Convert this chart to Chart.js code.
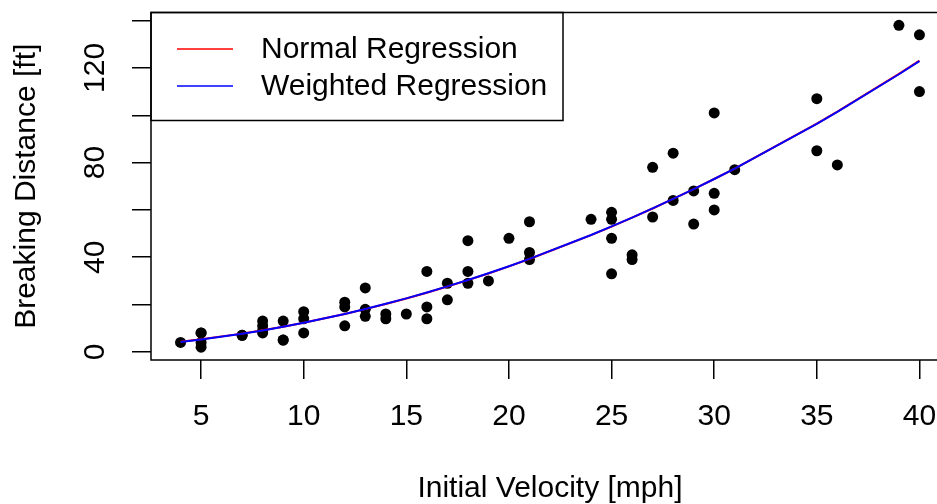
<!DOCTYPE html>
<html><head><meta charset="utf-8">
<script src="https://cdn.jsdelivr.net/npm/chart.js@4/dist/chart.umd.min.js"></script>
<style>html,body{margin:0;padding:0;background:#fff;overflow:hidden;width:937px;height:504px}canvas{display:block}</style>
</head><body>
<canvas id="c" width="960" height="504"></canvas>
<script>
const speed = [4,5,5,5,5,7,7,8,8,8,8,9,9,9,10,10,10,12,12,12,13,13,13,14,14,15,16,16,16,17,17,18,18,18,19,20,21,21,21,24,25,25,25,25,26,26,27,27,28,28,29,29,30,30,30,31,35,35,36,39,40,40];
const distance = [4,2,4,8,8,7,7,8,9,11,13,5,5,13,8,14,17,11,19,21,15,18,27,14,16,16,14,19,34,22,29,29,34,47,30,48,39,42,55,56,33,48,56,59,39,41,57,78,64,84,54,68,60,67,101,77,85,107,79,138,110,134];
const fitSpeed = [4,5,7,8,9,10,12,13,14,15,16,17,18,19,20,21,24,25,26,27,28,29,30,31,35,36,39,40];
const normalFit = [4.29,5.30,7.71,9.10,10.64,12.30,16.01,18.07,20.25,22.57,25.02,27.60,30.31,33.15,36.12,39.23,49.33,52.95,56.71,60.60,64.63,68.78,73.06,77.48,96.45,101.52,117.52,123.11];
const weightedFit = [4.15,5.19,7.64,9.06,10.61,12.28,16.03,18.10,20.30,22.62,25.08,27.67,30.38,33.23,36.20,39.31,49.40,53.02,56.77,60.65,64.66,68.80,73.07,77.47,96.37,101.42,117.34,122.91];
const xTicks = [5,10,15,20,25,30,35,40];
const yTicks = [0,20,40,60,80,100,120,140];
const yTickLabels = ['0','','40','','80','','120',''];
const legendLabels = ['Normal Regression','Weighted Regression'];
const xTitle = 'Initial Velocity [mph]';
const yTitle = 'Breaking Distance [ft]';

const FONT = '"Liberation Sans", Arial, Helvetica, sans-serif';
const xr = [Math.min(...speed), Math.max(...speed)];
const yr = [Math.min(...distance), Math.max(...distance)];
const ext = r => [r[0] - 0.04*(r[1]-r[0]), r[1] + 0.04*(r[1]-r[0])];
const xLim = ext(xr), yLim = ext(yr);

const rBox = {
  id: 'rBox',
  afterDraw(chart) {
    const {ctx, chartArea: a} = chart;
    ctx.save();
    ctx.strokeStyle = '#000';
    ctx.lineWidth = 1.5;
    ctx.strokeRect(a.left, a.top, a.right - a.left, a.bottom - a.top);
    const lx = a.left, ly = a.top, lw = 412, lh = 108;
    ctx.strokeRect(lx, ly, lw, lh);
    const ds = [chart.data.datasets[1], chart.data.datasets[2]];
    const rows = [ly + 36.5, ly + 73.5];
    ctx.font = '30px ' + FONT;
    ctx.textBaseline = 'middle';
    ctx.textAlign = 'left';
    ds.forEach((d, i) => {
      ctx.strokeStyle = d.borderColor;
      ctx.lineWidth = 1.6;
      ctx.beginPath();
      ctx.moveTo(lx + 26, rows[i]);
      ctx.lineTo(lx + 82, rows[i]);
      ctx.stroke();
      ctx.fillStyle = '#000';
      ctx.fillText(d.label, lx + 110, rows[i] + 1);
    });
    ctx.restore();
  }
};

const zeroPad = s => { s.paddingTop = 0; s.paddingBottom = 0; s.paddingLeft = 0; s.paddingRight = 0; };

new Chart(document.getElementById('c'), {
  type: 'scatter',
  data: {
    datasets: [
      { label: 'data', data: speed.map((s, i) => ({x: s, y: distance[i]})),
        backgroundColor: '#000', borderColor: '#000', pointRadius: 5.5, pointBorderWidth: 0, order: 3 },
      { label: legendLabels[0], data: fitSpeed.map((s, i) => ({x: s, y: normalFit[i]})),
        showLine: true, borderColor: '#FF0000', borderWidth: 2, pointRadius: 0, tension: 0, fill: false, order: 2 },
      { label: legendLabels[1], data: fitSpeed.map((s, i) => ({x: s, y: weightedFit[i]})),
        showLine: true, borderColor: '#0000FF', borderWidth: 2, pointRadius: 0, tension: 0, fill: false, order: 1 }
    ]
  },
  options: {
    responsive: false,
    animation: false,
    events: [],
    layout: { padding: { left: 0, right: 11, top: 12.5, bottom: 0 } },
    plugins: { legend: { display: false }, tooltip: { enabled: false } },
    scales: {
      x: {
        type: 'linear', min: xLim[0], max: xLim[1],
        afterBuildTicks: s => { s.ticks = xTicks.map(v => ({value: v})); },
        afterFit: s => { s.height = 144; zeroPad(s); },
        grid: { drawOnChartArea: false, drawTicks: true, tickLength: 19, color: '#000', lineWidth: 1.5 },
        border: { display: false },
        ticks: { autoSkip: false, maxRotation: 0, minRotation: 0, padding: 20, color: '#000',
                 font: { family: FONT, size: 30 }, callback: v => String(v) },
        title: { display: true, text: xTitle, color: '#000', font: { family: FONT, size: 30, lineHeight: 1 },
                 padding: { top: 0, bottom: 0 } }
      },
      y: {
        type: 'linear', min: yLim[0], max: yLim[1],
        afterBuildTicks: s => { s.ticks = yTicks.map(v => ({value: v})); },
        afterFit: s => { s.width = 151; zeroPad(s); },
        grid: { drawOnChartArea: false, drawTicks: true, tickLength: 19, color: '#000', lineWidth: 1.5 },
        border: { display: false },
        ticks: { autoSkip: false, minRotation: 90, maxRotation: 90, crossAlign: 'center', padding: 11, color: '#000',
                 font: { family: FONT, size: 30 },
                 callback: v => { const k = yTicks.indexOf(v); return k >= 0 ? yTickLabels[k] : ''; } },
        title: { display: true, text: yTitle, color: '#000', font: { family: FONT, size: 30, lineHeight: 1 },
                 padding: { top: 12, bottom: 0 } }
      }
    }
  },
  plugins: [rBox]
});
</script>
</body></html>
